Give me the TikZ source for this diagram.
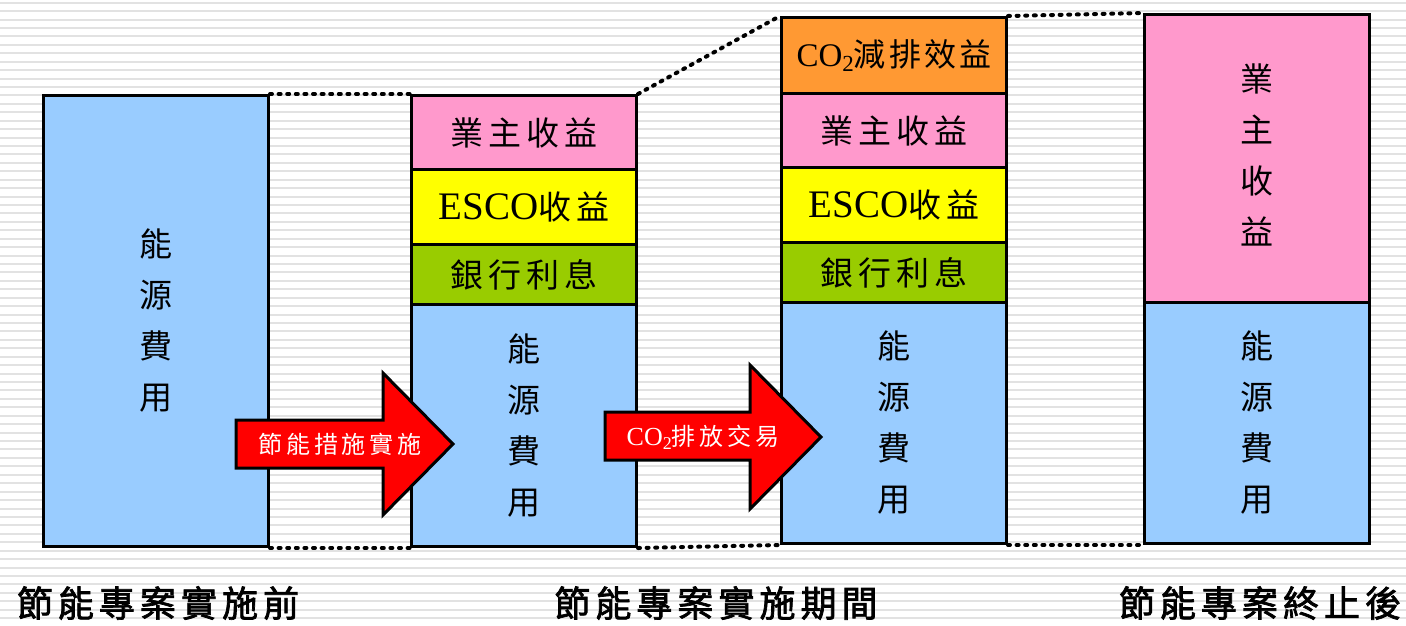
\documentclass[tikz,border=0pt]{standalone}
\usepackage{fontspec}
\setmainfont{Liberation Serif}
\newfontfamily\cjk[LetterSpace=16]{Noto Sans CJK TC}
\newfontfamily\cjkt[LetterSpace=10]{Noto Sans CJK TC}
\newfontfamily\cjkv{Noto Sans CJK TC}
\newfontfamily\cjkb[LetterSpace=14,FakeBold=2]{Noto Sans CJK TC}
\definecolor{cblue}{HTML}{99CCFF}
\definecolor{cpink}{HTML}{FF99CC}
\definecolor{cyel}{HTML}{FFFF00}
\definecolor{cgreen}{HTML}{99CC00}
\definecolor{corange}{HTML}{FF9933}
\definecolor{stripe}{HTML}{E2E2E2}
\tikzset{
  seg/.style={draw=black, line width=3pt, inner sep=0pt, minimum width=225pt},
  boxtxt/.style={font=\fontsize{33}{34}\selectfont\cjk},
  vtxt/.style={font=\fontsize{33}{51}\selectfont\cjkv, align=center},
  dotline/.style={line width=4pt, dash pattern=on 2pt off 6.6pt, line cap=round},
  redarrow/.style={fill=red, draw=black, line width=3pt, line join=miter},
  arrtxt/.style={text=white, font=\fontsize{24}{25}\selectfont\cjk},
  bottomlbl/.style={font=\fontsize{36}{38}\selectfont\cjkb, anchor=center}
}
\begin{document}
\begin{tikzpicture}[x=1pt,y=-1pt]
\useasboundingbox (0,0) rectangle (1406,625);
\fill[white] (0,0) rectangle (1406,625);
\foreach \k in {0,...,74} {
  \draw[stripe, line width=2pt] (0,{2.7+8.43*\k}) -- (1406,{2.7+8.43*\k});
}
% box 1
\node[seg, fill=cblue, minimum height=451pt, anchor=north west] (b1) at (42,94) {};
\node[vtxt] at (b1.center) {能\\源\\費\\用};
% box 2
\node[seg, fill=cpink, minimum height=74pt, anchor=north west] (b2a) at (410,94) {};
\node[seg, fill=cyel, minimum height=75pt, anchor=north west] (b2b) at (410,168) {};
\node[seg, fill=cgreen, minimum height=60pt, anchor=north west] (b2c) at (410,243) {};
\node[seg, fill=cblue, minimum height=242pt, anchor=north west] (b2d) at (410,303) {};
\node[boxtxt] at (b2a.center) {業主收益};
\node[boxtxt] at (b2b.center) {{\fontsize{39}{39}\selectfont\rmfamily ESCO}收益};
\node[boxtxt] at (b2c.center) {銀行利息};
\node[vtxt] at (b2d.center) {能\\源\\費\\用};
% box 3
\node[seg, fill=corange, minimum height=76pt, anchor=north west] (b3o) at (780,16) {};
\node[seg, fill=cpink, minimum height=74pt, anchor=north west] (b3a) at (780,92) {};
\node[seg, fill=cyel, minimum height=75pt, anchor=north west] (b3b) at (780,166) {};
\node[seg, fill=cgreen, minimum height=60pt, anchor=north west] (b3c) at (780,241) {};
\node[seg, fill=cblue, minimum height=241pt, anchor=north west] (b3d) at (780,301) {};
\node[font=\fontsize{32}{34}\selectfont\cjkt] at (b3o.center) {{\fontsize{33}{33}\selectfont\rmfamily CO\raisebox{-0.35ex}{\fontsize{23}{23}\selectfont 2}}減排效益};
\node[boxtxt] at (b3a.center) {業主收益};
\node[boxtxt] at (b3b.center) {{\fontsize{39}{39}\selectfont\rmfamily ESCO}收益};
\node[boxtxt] at (b3c.center) {銀行利息};
\node[vtxt] at (b3d.center) {能\\源\\費\\用};
% box 4
\node[seg, fill=cpink, minimum height=288pt, anchor=north west] (b4a) at (1143,13) {};
\node[seg, fill=cblue, minimum height=241pt, anchor=north west] (b4d) at (1143,301) {};
\node[vtxt] at ([yshift=4pt]b4a.center) {業\\主\\收\\益};
\node[vtxt] at (b4d.center) {能\\源\\費\\用};
% dotted lines
\draw[dotline] (b1.north east) -- (b2a.north west);
\draw[dotline] (b1.south east) -- (b2d.south west);
\draw[dotline] (b2a.north east) -- (b3o.north west);
\draw[dotline] (b2d.south east) -- (b3d.south west);
\draw[dotline] (b3o.north east) -- (b4a.north west);
\draw[dotline] (b3d.south east) -- (b4d.south west);
% arrows
\draw[redarrow] (236,420) -- (383,420) -- (383,373) -- (453,444) -- (383,515) -- (383,468) -- (236,468) -- cycle;
\node[arrtxt] (a1) at (340,444) {節能措施實施};
\draw[redarrow] (605,412) -- (750,412) -- (750,365) -- (821,437) -- (750,509) -- (750,460) -- (605,460) -- cycle;
\node[arrtxt] (a2) at (703,437) {{\fontsize{26}{26}\selectfont\rmfamily CO\raisebox{-0.35ex}{\fontsize{18}{18}\selectfont 2}}排放交易};
% bottom labels
\node[bottomlbl] (l1) at (158,603) {節能專案實施前};
\node[bottomlbl] (l2) at (716,603) {節能專案實施期間};
\node[bottomlbl] (l3) at (1260,603) {節能專案終止後};
\end{tikzpicture}
\end{document}
